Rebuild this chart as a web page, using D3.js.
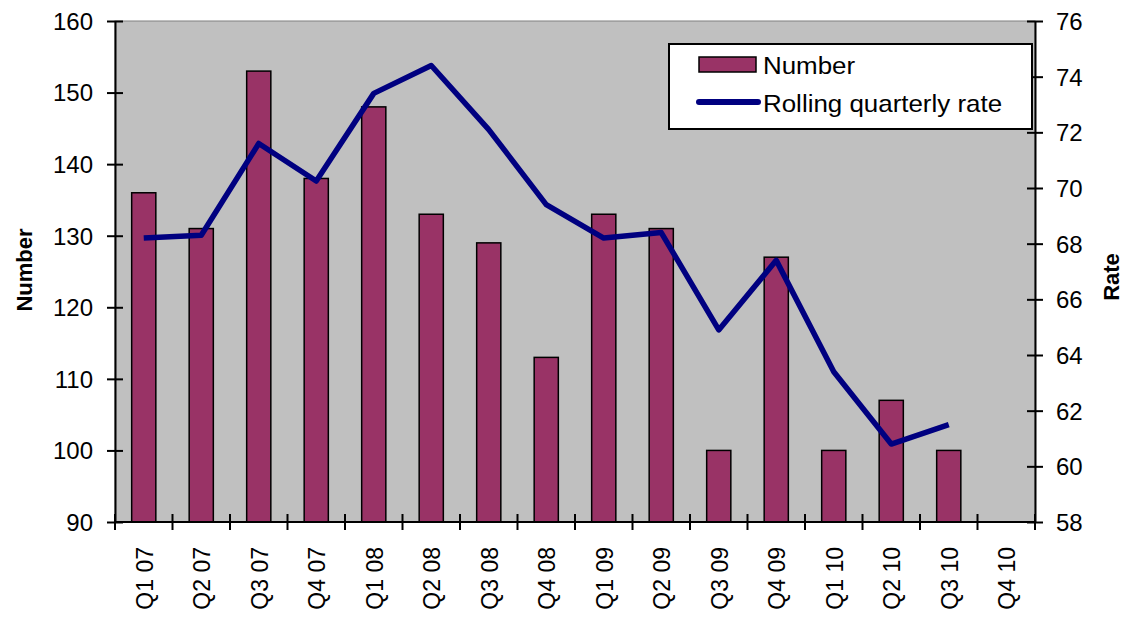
<!DOCTYPE html>
<html>
<head>
<meta charset="utf-8">
<script src="https://cdn.jsdelivr.net/npm/d3@7/dist/d3.min.js"></script>
<style>
  html, body { margin: 0; padding: 0; background: #fff; }
  svg { display: block; font-family: Arial, "Liberation Sans", sans-serif; }
</style>
</head>
<body>
<svg id="chart" width="1125" height="617"></svg>
<script>
// Quarterly counts (bars, left axis) and rolling quarterly rate (line, right axis)
const quarters = ["Q1 07","Q2 07","Q3 07","Q4 07","Q1 08","Q2 08","Q3 08","Q4 08",
                  "Q1 09","Q2 09","Q3 09","Q4 09","Q1 10","Q2 10","Q3 10","Q4 10"];
const numberValues = [136,131,153,138,148,133,129,113,133,131,100,127,100,107,100,null];
const rateValues = [68.2,68.3,71.6,70.25,73.4,74.4,72.1,69.4,68.2,68.4,64.9,67.4,63.4,60.8,61.5,null];
const leftTicks = [90,100,110,120,130,140,150,160];
const rightTicks = [58,60,62,64,66,68,70,72,74,76];
const seriesNames = ["Number","Rolling quarterly rate"];

const svg = d3.select("#chart");
const m = { left: 115, right: 1035, top: 21, bottom: 522 };

const x = d3.scaleBand().domain(quarters).range([m.left, m.right]).paddingInner(0).paddingOuter(0);
const yL = d3.scaleLinear().domain([90,160]).range([m.bottom, m.top]);
const yR = d3.scaleLinear().domain([58,76]).range([m.bottom, m.top]);

// plot background
svg.append("rect")
  .attr("x", m.left).attr("y", m.top)
  .attr("width", m.right - m.left).attr("height", m.bottom - m.top)
  .attr("fill", "#c0c0c0").attr("stroke", "#808080").attr("stroke-width", 1);

// bars
const barW = x.bandwidth() * 0.42;
svg.append("g").selectAll("rect")
  .data(quarters.map((q, i) => ({ q, v: numberValues[i] })).filter(d => d.v != null))
  .join("rect")
  .attr("x", d => x(d.q) + (x.bandwidth() - barW) / 2)
  .attr("y", d => yL(d.v))
  .attr("width", barW)
  .attr("height", d => yL(90) - yL(d.v))
  .attr("fill", "#993366")
  .attr("stroke", "#000").attr("stroke-width", 1.5);

// rate line
const linePts = quarters.map((q, i) => ({ q, v: rateValues[i] })).filter(d => d.v != null);
svg.append("path")
  .datum(linePts)
  .attr("d", d3.line().x(d => x(d.q) + x.bandwidth() / 2).y(d => yR(d.v)))
  .attr("fill", "none")
  .attr("stroke", "#000080")
  .attr("stroke-width", 5.5)
  .attr("stroke-linejoin", "round");

// axes
const tickFont = 24;
function styleAxis(g) {
  g.select(".domain").attr("stroke", "#000").attr("stroke-width", 2);
  g.selectAll(".tick line").attr("stroke", "#000").attr("stroke-width", 2);
  g.selectAll(".tick text").attr("fill", "#000").style("font-size", tickFont + "px")
    .style("font-family", "Arial, 'Liberation Sans', sans-serif");
}

const gL = svg.append("g").attr("transform", `translate(${m.left},0)`)
  .call(d3.axisLeft(yL).tickValues(leftTicks).tickSize(8).tickPadding(14).tickSizeOuter(0));
styleAxis(gL);
gL.selectAll(".tick line").attr("x2", 8).attr("x1", -8);
gL.selectAll(".tick text").attr("x", -22).attr("dy", "0.35em");

const gR = svg.append("g").attr("transform", `translate(${m.right},0)`)
  .call(d3.axisRight(yR).tickValues(rightTicks).tickSize(8).tickPadding(14).tickSizeOuter(0));
styleAxis(gR);
gR.selectAll(".tick line").attr("x1", -8).attr("x2", 8);
gR.selectAll(".tick text").attr("x", 21).attr("dy", "0.35em");

// category axis: ticks on band boundaries
const gB = svg.append("g").attr("transform", `translate(0,${m.bottom})`);
gB.append("line").attr("x1", m.left).attr("x2", m.right).attr("stroke", "#000").attr("stroke-width", 2);
const bounds = quarters.map(q => x(q)).concat([m.right]);
gB.selectAll("line.tk").data(bounds).join("line").attr("class", "tk")
  .attr("x1", d => d).attr("x2", d => d).attr("y1", -8).attr("y2", 8)
  .attr("stroke", "#000").attr("stroke-width", 2);
gB.selectAll("text").data(quarters).join("text")
  .attr("transform", d => `translate(${x(d) + x.bandwidth() / 2 + 1},25) rotate(-90)`)
  .attr("text-anchor", "end")
  .attr("dy", "0.35em")
  .style("font-size", "23px")
  .text(d => d);

// axis titles
svg.append("text")
  .attr("transform", `translate(32,270) rotate(-90)`)
  .attr("text-anchor", "middle")
  .style("font-size", "22px").style("font-weight", "bold")
  .text("Number");
svg.append("text")
  .attr("transform", `translate(1119,277) rotate(-90)`)
  .attr("text-anchor", "middle")
  .style("font-size", "22px").style("font-weight", "bold")
  .text("Rate");

// legend
const lg = svg.append("g");
lg.append("rect").attr("x", 669).attr("y", 44).attr("width", 363).attr("height", 85)
  .attr("fill", "#fff").attr("stroke", "#000").attr("stroke-width", 2);
lg.append("rect").attr("x", 699).attr("y", 57).attr("width", 57).attr("height", 15)
  .attr("fill", "#993366").attr("stroke", "#000").attr("stroke-width", 1.5);
lg.append("line").attr("x1", 699).attr("x2", 758).attr("y1", 102).attr("y2", 102)
  .attr("stroke", "#000080").attr("stroke-width", 6).attr("stroke-linecap", "round");
lg.selectAll("text.lt").data(seriesNames).join("text").attr("class", "lt")
  .attr("transform", (d, i) => `translate(763,${66 + i * 38}) scale(1.08,1)`)
  .attr("dy", "0.35em")
  .style("font-size", "24px")
  .text(d => d);
</script>
</body>
</html>
